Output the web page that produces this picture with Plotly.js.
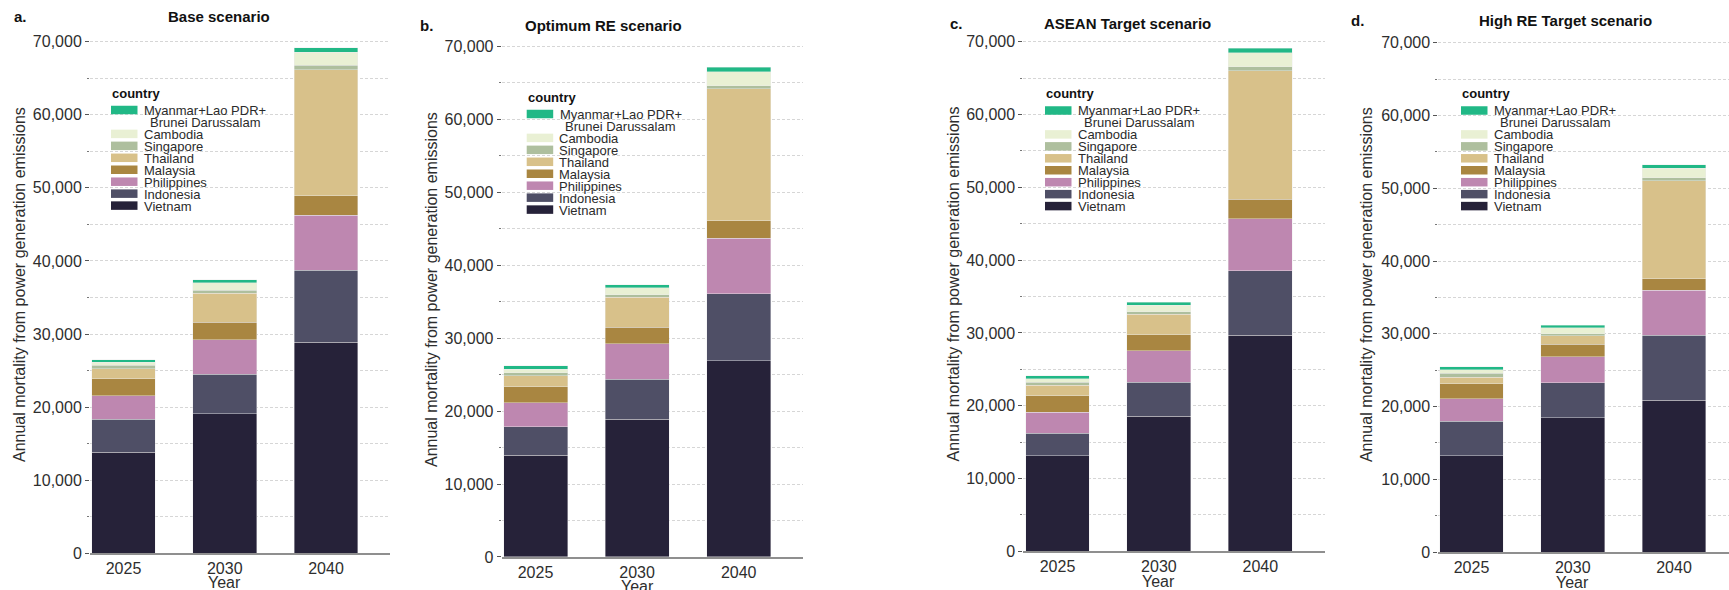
<!DOCTYPE html>
<html><head><meta charset="utf-8">
<script src="https://cdn.plot.ly/plotly-3.0.1.min.js"></script>
<style>html,body{margin:0;padding:0;background:#fff}#chart{width:1729px;height:590px}</style>
</head><body><div id="chart"></div>
<script>
// ---------------- data ----------------
const years = ['2025', '2030', '2040'];
const countries = ['Vietnam', 'Indonesia', 'Philippines', 'Malaysia', 'Thailand', 'Singapore', 'Cambodia', 'Myanmar+Lao PDR+ Brunei Darussalam'];
const legendLabelLines = [['Vietnam'], ['Indonesia'], ['Philippines'], ['Malaysia'], ['Thailand'], ['Singapore'], ['Cambodia'], ['Myanmar+Lao PDR+', 'Brunei Darussalam']];
const countryColors = ['#262239', '#4f4f66', '#be87b0', '#a98641', '#d8c18a', '#aebf9e', '#e9f0d4', '#21b886'];
const legendTitle = 'country';
const scenarioTitles = ['Base scenario', 'Optimum RE scenario', 'ASEAN Target scenario', 'High RE Target scenario'];
const panelLetters = ['a.', 'b.', 'c.', 'd.'];
const yAxisTitle = 'Annual mortality from power generation emissions';
const xAxisTitle = 'Year';

// rows follow `countries`, columns follow `years`
const baseScenario = [
  [13850, 19100, 28900],
  [4500, 5400, 9850],
  [3200, 4700, 7500],
  [2300, 2400, 2650],
  [1400, 4000, 17250],
  [500, 400, 600],
  [400, 1000, 1800],
  [350, 450, 650]
];
const optimumREScenario = [
  [13980, 18860, 26880],
  [3850, 5500, 9190],
  [3340, 4880, 7610],
  [2160, 2260, 2410],
  [1540, 4100, 18140],
  [400, 370, 420],
  [480, 930, 1900],
  [450, 400, 600]
];
const aseanTargetScenario = [
  [13120, 18580, 29700],
  [3090, 4680, 8850],
  [2880, 4330, 7150],
  [2270, 2160, 2630],
  [1440, 2830, 17700],
  [410, 360, 520],
  [520, 870, 1900],
  [410, 410, 670]
];
const highRETargetScenario = [
  [13240, 18500, 20870],
  [4740, 4790, 8960],
  [3090, 3550, 6180],
  [2060, 1700, 1550],
  [930, 1190, 13500],
  [520, 310, 360],
  [510, 820, 1340],
  [360, 310, 460]
];
const scenarios = [baseScenario, optimumREScenario, aseanTargetScenario, highRETargetScenario];

// ---------------- layout geometry (pixels) ----------------
const W = 1729, H = 590;
const FONT = 'Liberation Sans, Arial, Helvetica, sans-serif';
const panelGeom = [
  {xl: 90,     xr: 390,  c0: 123.5,  pitch: 101.25, y0: 553.3, y70: 41.7, titleX: 218.8,  titleY: 17,   letterX: 12,   ytX: 19,     ytY: 285,   legX: 111,   legY: 93.5, yearY: 582.5},
  {xl: 501.7,  xr: 803,  c0: 535.5,  pitch: 101.6,  y0: 557,   y70: 46.5, titleX: 603.3,  titleY: 25,   letterX: 418,  ytX: 431,    ytY: 290,   legX: 526.7, legY: 97.5, yearY: 586.5},
  {xl: 1023.3, xr: 1325, c0: 1057.5, pitch: 101.4,  y0: 551.4, y70: 41.7, titleX: 1127,   titleY: 23.5, letterX: 948,  ytX: 953,    ytY: 284.4, legX: 1045,  legY: 94,   yearY: 581.5},
  {xl: 1438.3, xr: 1729, c0: 1471.5, pitch: 101.25, y0: 552.1, y70: 42.8, titleX: 1565.3, titleY: 20.5, letterX: 1349, ytX: 1366.7, ytY: 284.4, legX: 1461,  legY: 94,   yearY: 582}
];
const YMAX = 71000;
const px = x => x / W;
const py = y => 1 - y / H;

const traces = [];
const layout = {
  width: W, height: H,
  margin: {l: 0, r: 0, t: 0, b: 0},
  paper_bgcolor: '#ffffff', plot_bgcolor: '#ffffff',
  barmode: 'stack', bargap: 0.37,
  showlegend: false,
  font: {family: FONT, color: '#2b2b2b'},
  annotations: [], shapes: []
};

panelGeom.forEach((g, i) => {
  const sfx = i === 0 ? '' : String(i + 1);
  const xa = 'x' + sfx, ya = 'y' + sfx;
  const data = scenarios[i];
  countries.forEach((c, k) => {
    traces.push({
      type: 'bar', x: years, y: data[k], name: c,
      xaxis: xa, yaxis: ya,
      marker: {color: countryColors[k], line: {color: 'rgba(235,235,235,0.7)', width: 0.6}},
      hovertemplate: c + '<br>%{x}: %{y:,}<extra>' + scenarioTitles[i] + '</extra>'
    });
  });
  const r0 = -(g.c0 - g.xl) / g.pitch;
  const r1 = r0 + (g.xr - g.xl) / g.pitch;
  const pxPer = (g.y0 - g.y70) / 70000;
  const yTop = g.y0 - pxPer * YMAX;
  layout['xaxis' + sfx] = {
    type: 'category', domain: [px(g.xl), px(g.xr)], range: [r0, r1], anchor: ya,
    showline: true, linecolor: '#8f8f8f', linewidth: 1.5,
    ticks: '', showgrid: false, zeroline: false, fixedrange: true,
    tickfont: {family: FONT, size: 16, color: '#2e2e2e'}
  };
  layout['yaxis' + sfx] = {
    domain: [py(g.y0), py(yTop)], range: [0, YMAX], anchor: xa,
    tickmode: 'linear', tick0: 0, dtick: 10000, tickformat: ',d',
    ticks: 'outside', ticklen: 4, tickwidth: 1, tickcolor: '#555',
    showline: false, zeroline: false, fixedrange: true,
    showgrid: true, gridcolor: '#d6d6d6', gridwidth: 1, griddash: '3px,2px',
    minor: {dtick: 5000, tick0: 0, ticks: 'outside', ticklen: 2, tickcolor: '#777', tickwidth: 1,
            showgrid: true, gridcolor: '#d6d6d6', gridwidth: 1, griddash: '3px,2px'},
    tickfont: {family: FONT, size: 16, color: '#2e2e2e'}
  };
  const A = layout.annotations;
  // panel letter and title
  A.push({xref: 'paper', yref: 'paper', x: px(g.letterX), y: py(g.titleY), xanchor: 'left', yanchor: 'middle',
          text: '<b>' + panelLetters[i] + '</b>', showarrow: false, font: {family: FONT, size: 15, color: '#111'}});
  A.push({xref: 'paper', yref: 'paper', x: px(g.titleX), y: py(g.titleY), xanchor: 'center', yanchor: 'middle',
          text: '<b>' + scenarioTitles[i] + '</b>', showarrow: false, font: {family: FONT, size: 15, color: '#111'}});
  // y-axis title
  A.push({xref: 'paper', yref: 'paper', x: px(g.ytX), y: py(g.ytY), xanchor: 'center', yanchor: 'middle', textangle: -90,
          text: yAxisTitle, showarrow: false, font: {family: FONT, size: 16, color: '#2e2e2e'}});
  // x-axis title under middle category (index 1 on the category axis)
  A.push({xref: xa, yref: 'paper', x: 1, y: py(g.yearY), xanchor: 'center', yanchor: 'middle',
          text: xAxisTitle, showarrow: false, font: {family: FONT, size: 16, color: '#2e2e2e'}});
  // legend (drawn compactly as in the reference)
  A.push({xref: 'paper', yref: 'paper', x: px(g.legX - 1), y: py(g.legY), xanchor: 'left', yanchor: 'middle',
          text: '<b>' + legendTitle + '</b>', showarrow: false, font: {family: FONT, size: 13, color: '#111'}});
  const pitch = 11.95;
  let slot = 0;
  for (let k = countries.length - 1; k >= 0; k--) {
    const cy = g.legY + 16.5 + pitch * slot;
    layout.shapes.push({type: 'rect', xref: 'paper', yref: 'paper', layer: 'above',
      x0: px(g.legX), x1: px(g.legX + 26.5), y0: py(cy + 4.25), y1: py(cy - 4.25),
      fillcolor: countryColors[k], line: {width: 0}});
    const lines = legendLabelLines[k];
    if (lines.length === 1) {
      A.push({xref: 'paper', yref: 'paper', x: px(g.legX + 30.5), y: py(cy + 0.5), xanchor: 'left', yanchor: 'middle',
              text: lines[0], showarrow: false, font: {family: FONT, size: 13, color: '#2b2b2b'}});
    } else {
      lines.forEach((ln, j) => {
        A.push({xref: 'paper', yref: 'paper', x: px(g.legX + 94), y: py(cy + 0.3 + 12.2 * j), xanchor: 'center', yanchor: 'middle',
                text: ln, showarrow: false, font: {family: FONT, size: 13, color: '#2b2b2b'}});
      });
    }
    slot += lines.length;
  }
});

Plotly.newPlot('chart', traces, layout, {displayModeBar: false, staticPlot: true});
</script>
</body></html>
